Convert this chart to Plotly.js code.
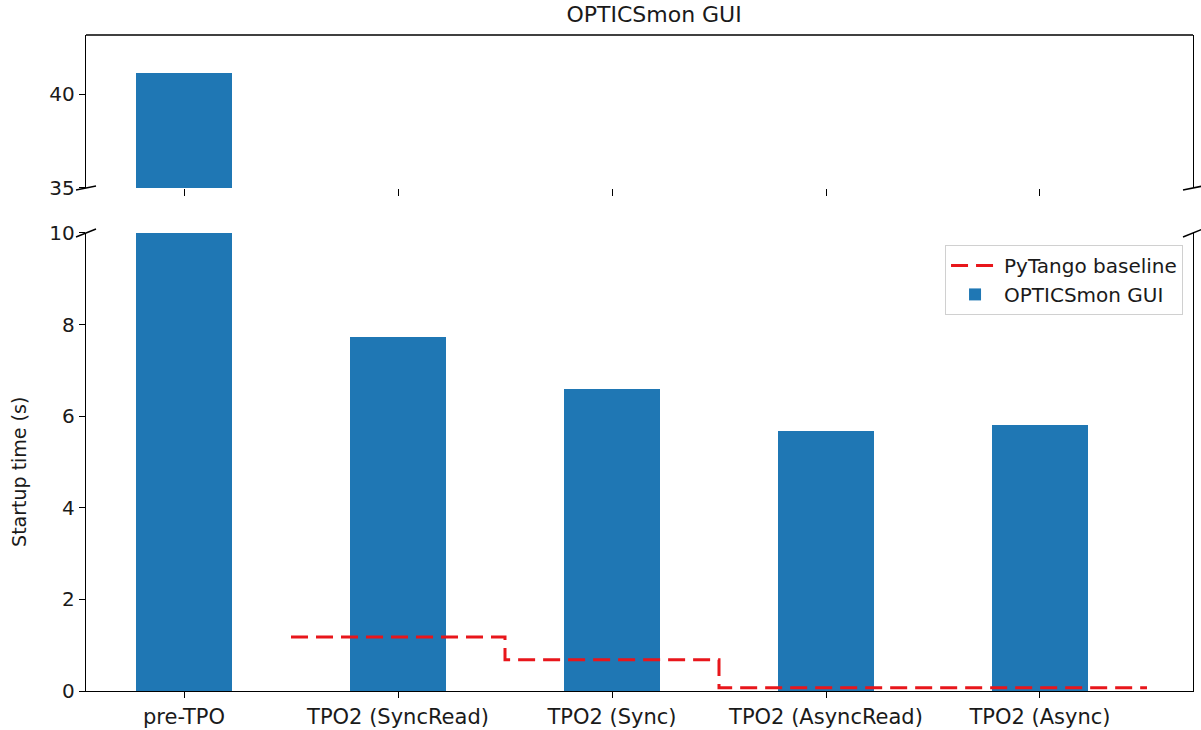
<!DOCTYPE html>
<html>
<head>
<meta charset="utf-8">
<script src="https://cdn.plot.ly/plotly-3.0.1.min.js"></script>
<style>html,body{margin:0;padding:0;background:#fff;}#chart{width:1201px;height:730px;}</style>
</head>
<body>
<div id="chart"></div>
<script>
const categories = ["pre-TPO", "TPO2 (SyncRead)", "TPO2 (Sync)", "TPO2 (AsyncRead)", "TPO2 (Async)"];
const guiTimes = [41.1, 7.73, 6.59, 5.68, 5.81];
const baselineCats = ["TPO2 (SyncRead)", "TPO2 (Sync)", "TPO2 (AsyncRead)", "TPO2 (Async)"];
const baselineTimes = [1.18, 0.68, 0.07, 0.07];
const bottomTicks = [0, 2, 4, 6, 8, 10];
const topTicks = [35, 40];

const idx = categories.map((c, i) => i);
// step edges for the baseline (each value spans its category slot)
const bx = [], by = [];
baselineCats.forEach((c, k) => {
  const i = categories.indexOf(c);
  bx.push(i - 0.5); by.push(baselineTimes[k]);
  if (k === baselineCats.length - 1) { bx.push(i + 0.5); by.push(baselineTimes[k]); }
});

const font = "DejaVu Sans, sans-serif";
const txt = "#1a1a1a";
const barColor = "#1f77b4";

const traces = [
  {type: "scatter", mode: "lines", x: bx, y: by, xaxis: "x", yaxis: "y",
   line: {shape: "hv", color: "#e8161b", width: 3, dash: "17px,8px"},
   name: "PyTango baseline", hoverinfo: "skip"},
  {type: "bar", x: idx, y: guiTimes, xaxis: "x", yaxis: "y", width: 0.45,
   marker: {color: barColor, line: {width: 0}}, name: "OPTICSmon GUI"},
  {type: "bar", x: idx, y: guiTimes, xaxis: "x2", yaxis: "y2", width: 0.45,
   marker: {color: barColor, line: {width: 0}}, name: "OPTICSmon GUI", showlegend: false}
];

const xr = [-0.458, 4.715];
const breakLine = {color: "#000", width: 1.5};
function brk(xa, ya, dy) {
  return {type: "line", xref: "paper", yref: "paper", xsizemode: "pixel", ysizemode: "pixel",
    xanchor: xa, yanchor: ya, x0: -10, x1: 10, y0: -dy, y1: dy, line: breakLine};
}
const topBottom = 0.7668, botTop = 0.6982;

const layout = {
  width: 1201, height: 730,
  margin: {l: 86, r: 8, t: 35, b: 39},
  paper_bgcolor: "#fff", plot_bgcolor: "#fff",
  font: {family: font, size: 20, color: txt},
  title: {text: "OPTICSmon GUI", x: 0.5446, xanchor: "center", y: 0.981, yanchor: "middle",
          font: {family: font, size: 22, color: txt}},
  bargap: 0,
  showlegend: true,
  legend: {x: 0.991, xanchor: "right", y: 0.680, yanchor: "top", bgcolor: "rgba(255,255,255,0.8)",
           bordercolor: "#d0d0d0", borderwidth: 1, font: {family: font, size: 20, color: txt},
           traceorder: "normal", tracegroupgap: 0, itemwidth: 48},
  xaxis: {anchor: "y", domain: [0, 1], range: xr, tickvals: idx, ticktext: categories,
          showline: true, linecolor: "#000", linewidth: 1.3, ticks: "outside", ticklen: 6,
          tickcolor: "#000", showgrid: false, zeroline: false, tickfont: {size: 21, color: txt}},
  xaxis2: {anchor: "y2", domain: [0, 1], range: xr, tickvals: idx, showticklabels: false,
           showline: false, ticks: "outside", ticklen: 7, tickcolor: "#000", showgrid: false, zeroline: false},
  yaxis: {domain: [0, botTop], range: [0, 10], tickvals: bottomTicks, showline: true, mirror: true,
          linecolor: "#000", linewidth: 1.3, ticks: "outside", ticklen: 6, tickcolor: "#000",
          showgrid: false, zeroline: false, tickfont: {size: 20, color: txt}},
  yaxis2: {domain: [topBottom, 1], range: [35, 43.14], tickvals: topTicks, showline: true, mirror: true,
           linecolor: "#000", linewidth: 1.3, ticks: "outside", ticklen: 6, tickcolor: "#000",
           showgrid: false, zeroline: false, tickfont: {size: 20, color: txt}},
  shapes: [
    {type: "line", xref: "paper", yref: "paper", x0: 0, x1: 1, y0: 1, y1: 1, line: {color: "#000", width: 1.3}},
    brk(0, topBottom, 2), brk(1, topBottom, 2),
    brk(0, botTop, 4), brk(1, botTop, 4)
  ],
  annotations: [
    {text: "Startup time (s)", xref: "paper", yref: "paper", x: -0.0605, y: 0.334, xanchor: "center",
     yanchor: "middle", textangle: -90, showarrow: false, font: {family: font, size: 19, color: txt}}
  ]
};

Plotly.newPlot("chart", traces, layout, {displayModeBar: false, staticPlot: true});
</script>
</body>
</html>
